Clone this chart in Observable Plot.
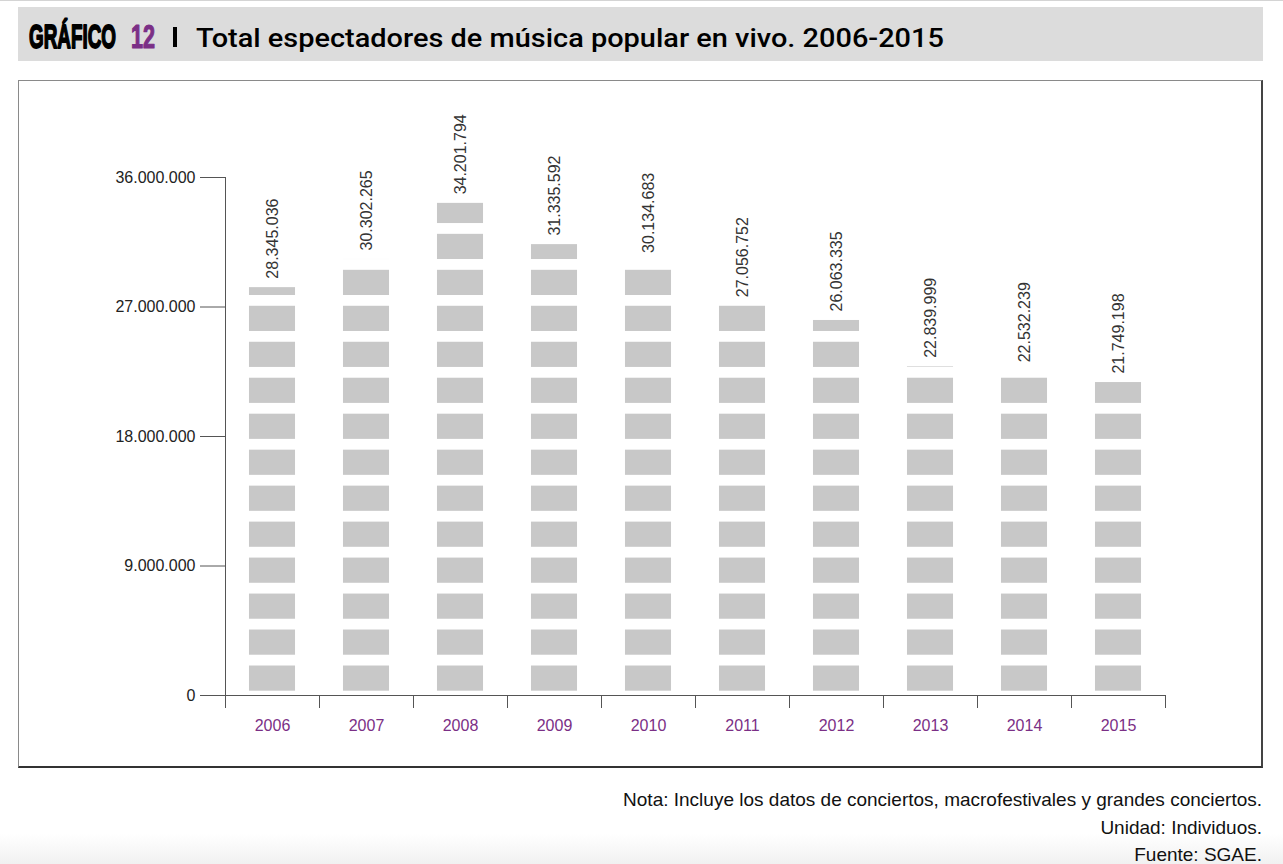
<!DOCTYPE html>
<html>
<head>
<meta charset="utf-8">
<script src="https://cdn.jsdelivr.net/npm/d3@7"></script>
<script src="https://cdn.jsdelivr.net/npm/@observablehq/plot@0.6"></script>
<style>
  html, body { margin: 0; padding: 0; }
  body { width: 1283px; height: 864px; position: relative; overflow: hidden; background: #fff;
         font-family: "Liberation Sans", Arial, Helvetica, sans-serif; }
  #topline { position: absolute; left: 0; top: 0; width: 1283px; height: 1px; background: #d4d4d4; }
  #header { position: absolute; left: 18px; top: 7px; }
  #box { position: absolute; left: 18px; top: 80px; width: 1245px; height: 688px; box-sizing: border-box;
         border-top: 1px solid #8a8a8a; border-left: 1px solid #8a8a8a;
         border-right: 2px solid #444; border-bottom: 2px solid #333; }
  #chart { position: absolute; left: 19px; top: 81px; }
  .foot { position: absolute; right: 21px; font-size: 19px; color: #111; white-space: nowrap; }
  #fade { position: absolute; left: 0; top: 834px; width: 1283px; height: 30px;
          background: linear-gradient(#ffffff, #f1f1f1); }
</style>
</head>
<body>
<div id="topline"></div>
<div id="fade"></div>
<svg id="header" width="1245" height="54" xmlns="http://www.w3.org/2000/svg">
  <rect x="0" y="0" width="1245" height="54" fill="#dcdcdc"></rect>
  <text id="hdG" font-family="'Liberation Sans', Arial, sans-serif" font-weight="bold"
        font-size="34" fill="#000" stroke="#000" stroke-width="1.8" stroke-linejoin="round">GRÁFICO</text>
  <text id="hd12" font-family="'Liberation Sans', Arial, sans-serif" font-weight="bold"
        font-size="34" fill="#7b2f86" stroke="#7b2f86" stroke-width="1.2" stroke-linejoin="round">12</text>
  <rect x="155" y="20" width="4" height="20" fill="#000"></rect>
  <text id="title" font-family="Roboto, 'Liberation Sans', Arial, sans-serif" font-weight="500"
        font-size="26" fill="#000">Total espectadores de música popular en vivo. 2006-2015</text>
</svg>
<div id="box"></div>
<div id="chart"></div>
<div class="foot" style="top:789px">Nota: Incluye los datos de conciertos, macrofestivales y grandes conciertos.</div>
<div class="foot" style="top:817px">Unidad: Individuos.</div>
<div class="foot" style="top:844px">Fuente: SGAE.</div>
<script>
// ---- data ----
const years = [2006, 2007, 2008, 2009, 2010, 2011, 2012, 2013, 2014, 2015];
const values = [28345036, 30302265, 34201794, 31335592, 30134683, 27056752, 26063335, 22839999, 22532239, 21749198];
const yTicks = [0, 9000000, 18000000, 27000000, 36000000];

// ---- styling / pattern constants ----
const STRIPE_BASE = 300000;    // first stripe starts slightly above zero
const STRIPE_PERIOD = 2500000; // stripe + gap
const STRIPE_LEN = 1750000;    // visible stripe length
const HALF = 0.245;            // half bar width in band units
const purple = "#7b2f86";

// header text fitting (scale horizontally to the reference widths)
function fit(id, x, y, w) {
  const el = document.getElementById(id);
  const natural = el.getComputedTextLength();
  el.setAttribute("transform", `translate(${x},${y}) scale(${w / natural},1)`);
}
fit("hdG", 11, 41, 87);
fit("hd12", 113, 41, 24);
fit("title", 178, 40, 748);

const locale = d3.formatLocale({decimal: ",", thousands: ".", grouping: [3], currency: ["", "€"]});
const fmt = locale.format(",d");

const table = years.map((year, i) => ({year, value: values[i]}));
const stripes = [];
for (const d of table) {
  for (let b = STRIPE_BASE; b < d.value; b += STRIPE_PERIOD) {
    stripes.push({year: d.year, y1: b, y2: Math.min(b + STRIPE_LEN, d.value)});
  }
}
const bounds = years.map(y => y - 0.5).concat([years[years.length - 1] + 0.5]);

const chart = Plot.plot({
  width: 1243,
  height: 685,
  marginLeft: 206,
  marginRight: 97,
  marginTop: 96,
  marginBottom: 71,
  style: {fontFamily: "'Liberation Sans', Arial, Helvetica, sans-serif", fontSize: "16px", color: "#333", background: "transparent"},
  x: {type: "linear", domain: [years[0] - 0.5, years[years.length - 1] + 0.5], label: null},
  y: {domain: [0, 36000000], label: null},
  marks: [
    Plot.rectY(stripes, {x1: d => d.year - HALF, x2: d => d.year + HALF, y1: "y1", y2: "y2", fill: "#c8c8c8"}),
    Plot.ruleX([bounds[0]], {y1: 0, y2: 36000000, stroke: "#555"}),
    Plot.ruleY([0], {x1: bounds[0], x2: bounds[bounds.length - 1], stroke: "#555"}),
    Plot.axisY(yTicks, {tickSize: 25, tickPadding: 5, tickFormat: fmt, stroke: "#555", fill: "#222", fontSize: 16}),
    Plot.axisX(bounds, {tickSize: 13, tickFormat: () => "", stroke: "#555"}),
    Plot.axisX(years, {tickSize: 0, tickPadding: 24, tickFormat: d => String(d), fill: purple, fontSize: 16}),
    Plot.text(table, {x: "year", y: "value", text: d => fmt(d.value), rotate: -90, textAnchor: "start",
                      dy: -9, fill: "#333", fontSize: 16})
  ]
});
document.getElementById("chart").appendChild(chart);
</script>
</body>
</html>
